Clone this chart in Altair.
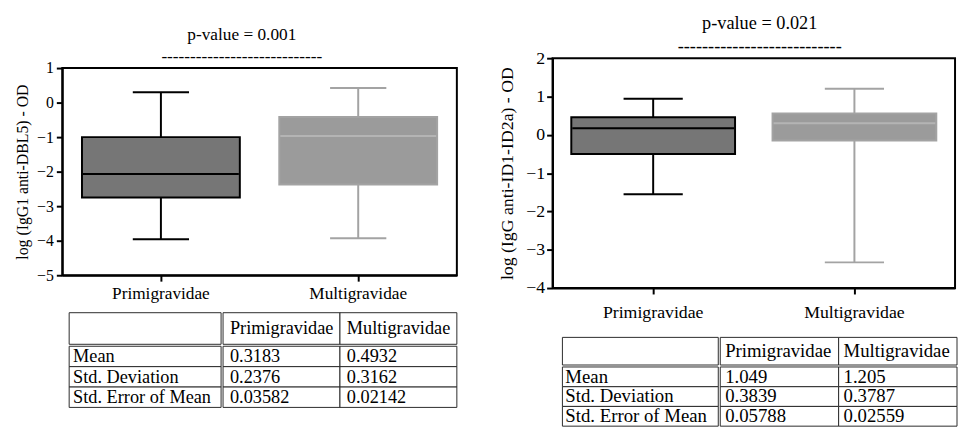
import altair as alt
import pandas as pd

FONT = "Liberation Serif"

groups = ["Primigravidae", "Multigravidae"]

# Panel A: log (IgG1 anti-DBL5) - OD  (min, Q1, median, Q3, max)
a_min = [-3.96, -3.93]
a_q1 = [-2.75, -2.37]
a_med = [-2.07, -0.97]
a_q3 = [-1.00, -0.42]
a_max = [0.30, 0.42]

# Panel B: log (IgG anti-ID1-ID2a) - OD
b_min = [-1.55, -3.33]
b_q1 = [-0.50, -0.15]
b_med = [0.17, 0.30]
b_q3 = [0.46, 0.56]
b_max = [0.94, 1.20]

stat_rows = ["Mean", "Std. Deviation", "Std. Error of Mean"]
a_primi = ["0.3183", "0.2376", "0.03582"]
a_multi = ["0.4932", "0.3162", "0.02142"]
b_primi = ["1.049", "0.3839", "0.05788"]
b_multi = ["1.205", "0.3787", "0.02559"]

a_title = ["p-value = 0.001", "-" * 28]
b_title = ["p-value = 0.021", "-" * 27]
a_ytitle = "log (IgG1 anti-DBL5) - OD"
b_ytitle = "log (IgG anti-ID1-ID2a) - OD"

LINE_PRIMI = "#000000"
LINE_MULTI = "#a3a3a3"
FILL_PRIMI = "#767676"
FILL_MULTI = "#9b9b9b"
MED_MULTI = "#b4b4b4"


def title_chart(lines, width, height, y_range, fs, dx):
    df = pd.DataFrame({"line": list(range(len(lines))), "txt": lines})
    return alt.Chart(df).mark_text(font=FONT, fontSize=fs, color="black",
                                   baseline="middle", align="center", dx=dx).encode(
        y=alt.Y("line:O", scale=alt.Scale(domain=list(range(len(lines))), range=y_range,
                                          paddingInner=0, paddingOuter=0), axis=None),
        text="txt:N").properties(width=width, height=height)


def box_panel(mins, q1, med, q3, maxs, ydomain, ytitle, w, h, box_w, cap_w,
              tick_fs, ytitle_fs, cat_fs, xlab_pad, ytitle_pad, ylab_pad):
    df = pd.DataFrame({"group": groups, "lo": mins, "q1": q1, "med": med,
                       "q3": q3, "hi": maxs})
    is_primi = alt.datum.group == groups[0]
    line_col = alt.when(is_primi).then(alt.value(LINE_PRIMI)).otherwise(alt.value(LINE_MULTI))
    fill_col = alt.when(is_primi).then(alt.value(FILL_PRIMI)).otherwise(alt.value(FILL_MULTI))
    med_col = alt.when(is_primi).then(alt.value(LINE_PRIMI)).otherwise(alt.value(MED_MULTI))

    x = alt.X("group:N", sort=groups,
              scale=alt.Scale(domain=groups, paddingInner=0, paddingOuter=0),
              axis=alt.Axis(title=None, labelAngle=0, labelFont=FONT, labelFontSize=cat_fs,
                            labelColor="black", tickSize=6, tickWidth=2, tickColor="black",
                            domainWidth=2, domainColor="black", labelPadding=xlab_pad,
                            grid=False))
    yscale = alt.Scale(domain=ydomain, nice=False, zero=False)
    yaxis = alt.Axis(title=ytitle, values=list(range(ydomain[0], ydomain[1] + 1)),
                     format="d", grid=False, labelFont=FONT, labelFontSize=tick_fs,
                     labelColor="black", tickSize=6, tickWidth=2, tickColor="black",
                     domainWidth=2, domainColor="black", labelPadding=ylab_pad,
                     titleFont=FONT, titleFontSize=ytitle_fs, titleFontWeight="normal",
                     titleColor="black", titlePadding=ytitle_pad)

    def Y(f):
        return alt.Y(f"{f}:Q", scale=yscale, axis=yaxis)

    base = alt.Chart(df)
    whisk = base.mark_rule(strokeWidth=2, opacity=1).encode(
        x=x, y=Y("lo"), y2="hi:Q", color=line_col)
    box = base.mark_bar(size=box_w, strokeWidth=2, opacity=1).encode(
        x=x, y=Y("q1"), y2="q3:Q", fill=fill_col, stroke=line_col)
    cap_lo = base.mark_tick(size=cap_w, thickness=2, opacity=1).encode(
        x=x, y=Y("lo"), color=line_col)
    cap_hi = base.mark_tick(size=cap_w, thickness=2, opacity=1).encode(
        x=x, y=Y("hi"), color=line_col)
    median = base.mark_tick(size=box_w - 2, thickness=2, opacity=1).encode(
        x=x, y=Y("med"), color=med_col)
    return alt.layer(whisk, box, cap_lo, cap_hi, median).properties(
        width=w, height=h, view=alt.ViewBackground(stroke="black", strokeWidth=2))


def cell_block(cols, rows, cells, width, height, x0, fs, dx):
    df = pd.DataFrame(cells, columns=["col", "row", "val"])
    xs = alt.Scale(domain=cols, range=[x0, width], paddingInner=0, paddingOuter=0)
    ys = alt.Scale(domain=rows, paddingInner=0, paddingOuter=0)
    base = alt.Chart(df)
    rect = base.mark_rect(fill="white", stroke="#2b2b2b", strokeWidth=1).encode(
        x=alt.X("col:N", scale=xs, axis=None),
        y=alt.Y("row:N", scale=ys, axis=None))
    text = base.mark_text(align="left", baseline="middle", dx=dx, font=FONT,
                          fontSize=fs, color="black").encode(
        x=alt.X("col:N", scale=xs, axis=None, bandPosition=0),
        y=alt.Y("row:N", scale=ys, axis=None),
        text="val:N")
    return alt.layer(rect, text).properties(width=width, height=height)


def stats_table(primi, multi, lab_w, val_w, hdr_h, body_h, x0, fs, dx_lab, dx_val):
    hdr_l = cell_block(["label"], ["hdr"], [("label", "hdr", "")],
                       lab_w + x0, hdr_h, x0, fs, dx_lab)
    body_l = cell_block(["label"], stat_rows, [("label", r, r) for r in stat_rows],
                        lab_w + x0, body_h, x0, fs, dx_lab)
    hdr_v = cell_block(groups, ["hdr"], [(g, "hdr", g) for g in groups],
                       val_w, hdr_h, 0, fs, dx_val)
    body_cells = [(groups[0], r, v) for r, v in zip(stat_rows, primi)] + \
                 [(groups[1], r, v) for r, v in zip(stat_rows, multi)]
    body_v = cell_block(groups, stat_rows, body_cells, val_w, body_h, 0, fs, dx_val)
    return alt.hconcat(alt.vconcat(hdr_l, body_l, spacing=0),
                       alt.vconcat(hdr_v, body_v, spacing=0), spacing=0)


left_title = title_chart(a_title, 400, 58, [14, 58], 17.5, -18)
left_box = box_panel(a_min, a_q1, a_med, a_q3, a_max, [-5, 1], a_ytitle,
                     400, 210, 160, 57, tick_fs=16, ytitle_fs=16, cat_fs=17.5,
                     xlab_pad=4, ytitle_pad=6, ylab_pad=3)
left_table = stats_table(a_primi, a_multi, 154, 237, 32, 62, 7, 18.5, 4, 7)

right_title = title_chart(b_title, 408, 48, [0, 48], 18.5, 6)
right_box = box_panel(b_min, b_q1, b_med, b_q3, b_max, [-4, 2], b_ytitle,
                      408, 233, 166, 60, tick_fs=18, ytitle_fs=18, cat_fs=18,
                      xlab_pad=10, ytitle_pad=9, ylab_pad=2)
right_table = stats_table(b_primi, b_multi, 158, 240, 28, 60, 10, 19, 3, 5)

left_panel = alt.vconcat(alt.vconcat(left_title, left_box, spacing=-10), left_table,
                         spacing=8)
right_panel = alt.vconcat(alt.vconcat(right_title, right_box, spacing=-10), right_table,
                          spacing=14)

chart = alt.hconcat(left_panel, right_panel, spacing=40).properties(
    padding={"left": 5, "top": 0, "right": 0, "bottom": 0}
).configure_view(strokeWidth=0)

chart.save("out.html", embed_options={"renderer": "svg", "actions": False})
